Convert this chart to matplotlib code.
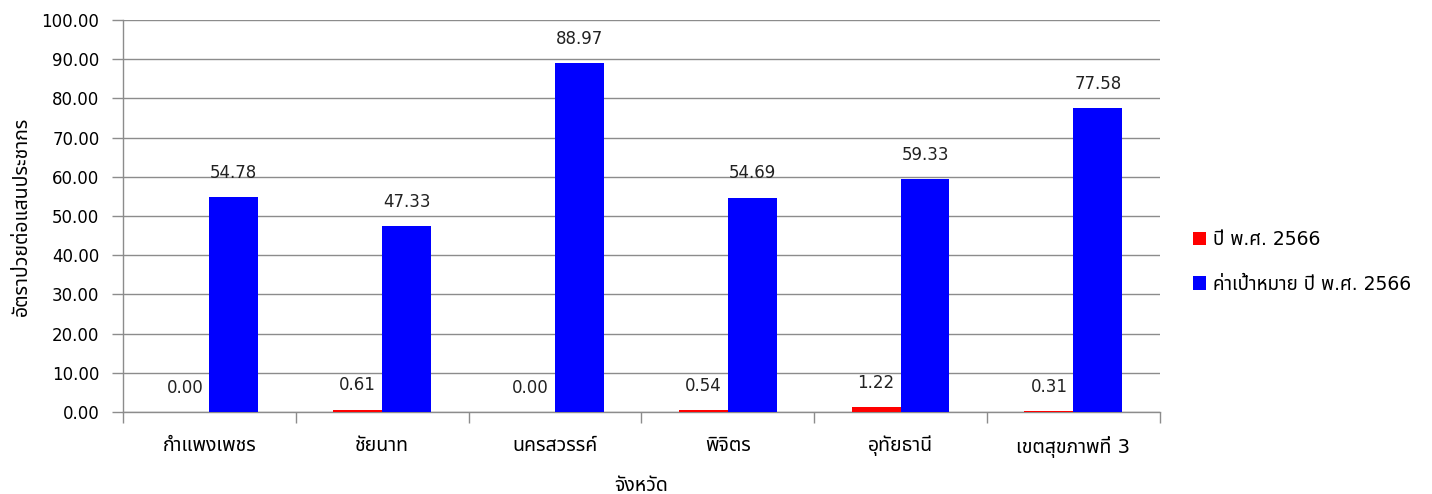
import numpy as np
import matplotlib
matplotlib.use('Agg')
import matplotlib.pyplot as plt
from matplotlib.ticker import FormatStrFormatter, FixedLocator

# Font: DejaVu for digits, Noto Sans Thai for the Thai letters
matplotlib.rcParams['font.family'] = ['DejaVu Sans', 'Noto Sans Thai']

##########################################
## Data
##########################################
provinces = ['กำแพงเพชร', 'ชัยนาท', 'นครสวรรค์', 'พิจิตร', 'อุทัยธานี', 'เขตสุขภาพที่ 3']
rate_2566 = [0.00, 0.61, 0.00, 0.54, 1.22, 0.31]
target_2566 = [54.78, 47.33, 88.97, 54.69, 59.33, 77.58]
series_names = ['ปี พ.ศ. 2566', 'ค่าเป้าหมาย ปี พ.ศ. 2566']

# Plot parameters
fontsize = 12       # numbers
thai_fontsize = 14  # Thai texts (Noto Sans Thai runs small)
bar_width = 0.283
grid_color = '#8c8c8c'

x = np.arange(len(provinces))

fig = plt.figure(figsize=(14.32, 4.94), dpi=100)
fig.patch.set_facecolor('white')
ax = fig.add_axes([0.0859, 0.166, 0.724, 0.7935])

b1 = ax.bar(x - bar_width / 2, rate_2566, bar_width, color='#ff0000', label=series_names[0], zorder=3)
b2 = ax.bar(x + bar_width / 2, target_2566, bar_width, color='#0000ff', label=series_names[1], zorder=3)

for bars, vals in [(b1, rate_2566), (b2, target_2566)]:
    for rect, v in zip(bars, vals):
        ax.annotate('%.2f' % v, (rect.get_x() + rect.get_width() / 2, rect.get_height()),
                    xytext=(0, 11), textcoords='offset points', ha='center', va='bottom',
                    fontsize=fontsize, color='#222222')

ax.set_ylim(0, 100)
ax.set_xlim(-0.5, len(provinces) - 0.5)
ax.set_yticks(np.arange(0, 101, 10))
ax.yaxis.set_major_formatter(FormatStrFormatter('%.2f'))
ax.yaxis.grid(True, color=grid_color, lw=1, zorder=0)
ax.set_axisbelow(True)

# category labels centred, tick marks between groups
ax.set_xticks(x)
ax.set_xticklabels(provinces, fontsize=thai_fontsize)
ax.tick_params(axis='x', which='major', length=0, pad=17)
ax.xaxis.set_minor_locator(FixedLocator(np.arange(-0.5, len(provinces), 1.0)))
ax.tick_params(axis='x', which='minor', length=8, color=grid_color, width=1)
ax.tick_params(axis='y', length=8, color=grid_color, width=1, labelsize=fontsize, pad=9)

for s in ['top', 'right']:
    ax.spines[s].set_visible(False)
for s in ['left', 'bottom']:
    ax.spines[s].set_color(grid_color)
    ax.spines[s].set_linewidth(1)

ax.set_xlabel('จังหวัด', fontsize=thai_fontsize, labelpad=13)
ax.set_ylabel('อัตราป่วยต่อแสนประชากร', fontsize=thai_fontsize, labelpad=8)

ax.legend(loc='center left', bbox_to_anchor=(1.016, 0.383), frameon=False, fontsize=13.5,
          handlelength=0.7, handleheight=0.7, handletextpad=0.35, labelspacing=1.35)

fig.savefig('out.png', dpi=100, facecolor='white')
